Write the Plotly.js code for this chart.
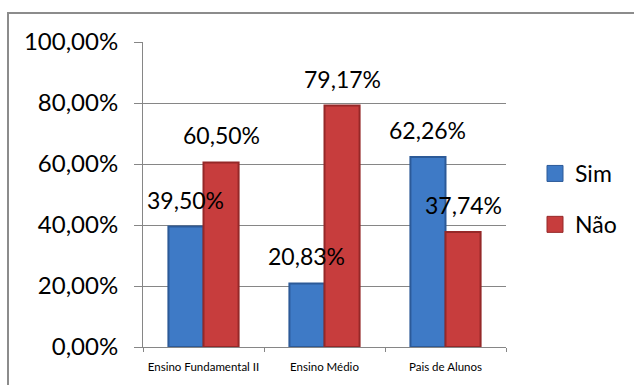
<!DOCTYPE html>
<html>
<head>
<meta charset="utf-8">
<script src="https://cdn.plot.ly/plotly-3.0.1.min.js"></script>
<style>
  html, body { margin: 0; padding: 0; background: #ffffff; }
  #chart { width: 634px; height: 385px; }
</style>
</head>
<body>
<div id="chart"></div>
<script>
// Categories and series (percent values)
const categories = ["Ensino Fundamental II", "Ensino Médio", "Pais de Alunos"];
const simValues = [39.50, 20.83, 62.26];
const naoValues = [60.50, 79.17, 37.74];
const seriesNames = ["Sim", "Não"];
const yTickValues = [0, 20, 40, 60, 80, 100];

const W = 634, H = 385;
const margin = { l: 143, r: 128, t: 42, b: 38 };
const plotW = W - margin.l - margin.r;
const plotH = H - margin.t - margin.b;
const bargap = 0.42;
const barPx = plotW / categories.length * (1 - bargap) / 2;

const blue = { fill: "#3e7ac6", edge: "#2c5a98" };
const red = { fill: "#c73d3d", edge: "#952828" };
const fontFamily = "Lato, 'Noto Sans', sans-serif";
const labelFont = { family: fontFamily, size: 23, color: "#000000" };

// "39,50%" style formatting with a decimal comma
function pct(v) { return v.toFixed(2).replace(".", ",") + "%"; }
const yTickLabels = yTickValues.map(pct);

const traces = [
  {
    type: "bar", name: seriesNames[0], x: categories, y: simValues,
    marker: { color: blue.fill, line: { color: blue.edge, width: 2 } },
    showlegend: false, hoverinfo: "skip"
  },
  {
    type: "bar", name: seriesNames[1], x: categories, y: naoValues,
    marker: { color: red.fill, line: { color: red.edge, width: 2 } },
    showlegend: false, hoverinfo: "skip"
  },
  // legend entries with larger square swatches
  {
    type: "scatter", mode: "markers", name: seriesNames[0], x: [null], y: [null],
    marker: { symbol: "square", size: 16, color: blue.fill, line: { color: blue.edge, width: 1 } },
    legendgroup: "a", showlegend: true
  },
  {
    type: "scatter", mode: "markers", name: seriesNames[1], x: [null], y: [null],
    marker: { symbol: "square", size: 16, color: red.fill, line: { color: red.edge, width: 1 } },
    legendgroup: "b", showlegend: true
  }
];

// value labels centred above each bar
const annotations = [];
[[simValues, -1], [naoValues, 1]].forEach(([vals, side]) => {
  vals.forEach((v, i) => {
    annotations.push({
      x: categories[i], y: v, xref: "x", yref: "y",
      xshift: side * barPx / 2, yshift: 27,
      text: pct(v), showarrow: false,
      xanchor: "center", yanchor: "middle",
      font: labelFont
    });
  });
});

// outer chart frame (extends past the right and bottom edges)
const px2x = px => (px - margin.l) / plotW;
const px2y = py => (H - margin.b - py) / plotH;
const shapes = [{
  type: "rect", xref: "paper", yref: "paper",
  x0: px2x(8), x1: px2x(660), y0: px2y(410), y1: px2y(13),
  line: { color: "#8c8c8c", width: 2 }, fillcolor: "rgba(0,0,0,0)", layer: "below"
}];

const layout = {
  width: W, height: H,
  margin: margin,
  paper_bgcolor: "#ffffff", plot_bgcolor: "#ffffff",
  barmode: "group", bargap: bargap, bargroupgap: 0,
  font: { family: fontFamily, color: "#000000" },
  xaxis: {
    type: "category",
    showline: true, linecolor: "#868686", linewidth: 1,
    ticks: "outside", tickson: "boundaries", ticklen: 4, tickcolor: "#868686",
    tickfont: { size: 11.5, family: fontFamily, color: "#000000" },
    ticklabelstandoff: 9,
    showgrid: false, zeroline: false, fixedrange: true
  },
  yaxis: {
    range: [0, 100], tickmode: "array", tickvals: yTickValues, ticktext: yTickLabels,
    showline: true, linecolor: "#868686", linewidth: 1,
    ticks: "outside", ticklen: 8, tickcolor: "#868686",
    showgrid: true, gridcolor: "#868686", gridwidth: 1,
    zeroline: false,
    tickfont: { size: 24, family: fontFamily, color: "#000000" },
    ticklabelstandoff: 11, fixedrange: true
  },
  legend: {
    x: px2x(535), xanchor: "left",
    y: px2y(152), yanchor: "top",
    font: { size: 23, family: fontFamily, color: "#000000" },
    traceorder: "grouped", tracegroupgap: 18,
    bgcolor: "rgba(0,0,0,0)", borderwidth: 0
  },
  annotations: annotations,
  shapes: shapes
};

Plotly.newPlot("chart", traces, layout, { staticPlot: true, displayModeBar: false });
</script>
</body>
</html>
